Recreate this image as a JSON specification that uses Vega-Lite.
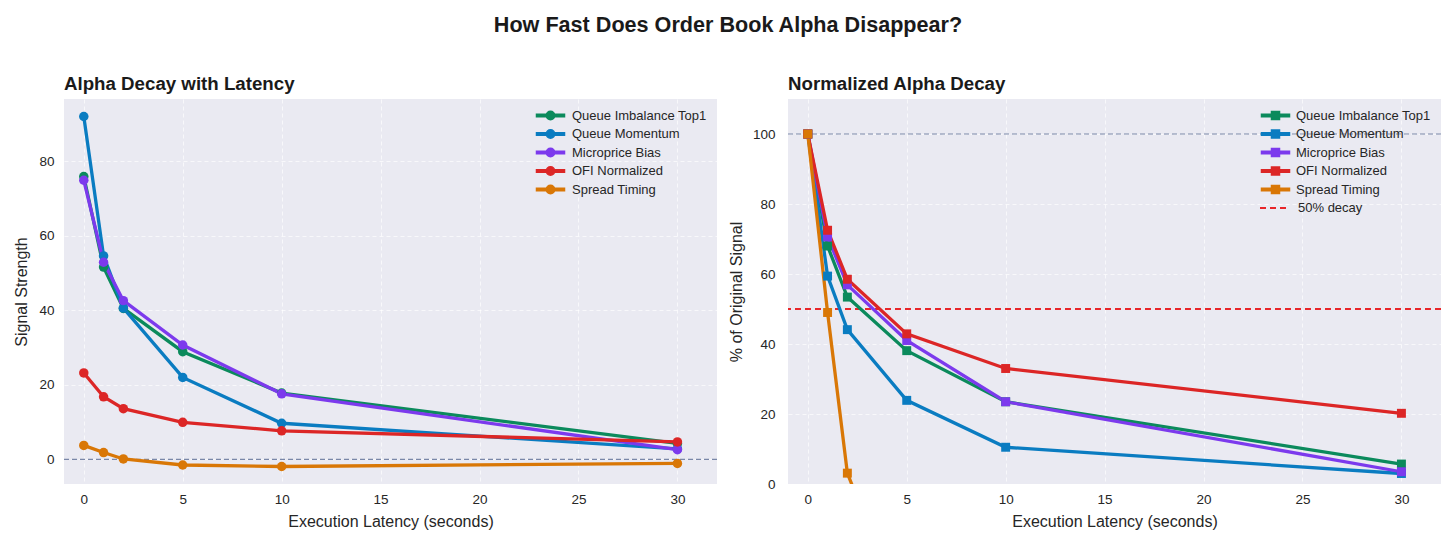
{
  "$schema": "https://vega.github.io/schema/vega-lite/v6.json",
  "autosize": {"type": "none"},
  "padding": {"left": 64, "top": 99, "right": 1392, "bottom": 446},
  "background": "white",
  "title": {
    "text": "How Fast Does Order Book Alpha Disappear?",
    "anchor": "middle",
    "frame": "bounds",
    "fontSize": 21.6,
    "fontWeight": "bold",
    "color": "#1a1a1a",
    "offset": 39
  },
  "config": {
    "font": "Liberation Sans",
    "view": {"fill": "#EAEAF2", "stroke": null},
    "axis": {
      "domain": false,
      "ticks": false,
      "grid": true,
      "gridColor": "#ffffff",
      "gridDash": [4, 3],
      "gridWidth": 1,
      "gridOpacity": 0.65,
      "labelFontSize": 13.5,
      "labelColor": "#262626",
      "titleFontSize": 16,
      "titleFontWeight": "normal",
      "titleColor": "#262626"
    },
    "title": {"fontWeight": "bold", "color": "#1a1a1a"},
    "legend": {
      "orient": "none",
      "title": null,
      "padding": 0,
      "labelFontSize": 13,
      "labelColor": "#262626",
      "rowPadding": 3.5,
      "strokeColor": null,
      "fillColor": null
    }
  },
  "datasets": {
    "decay": [
      {"series": "Queue Imbalance Top1", "latency": 0, "signal": 75.9, "pct": 100},
      {"series": "Queue Imbalance Top1", "latency": 1, "signal": 51.6, "pct": 68.0},
      {"series": "Queue Imbalance Top1", "latency": 2, "signal": 40.5, "pct": 53.4},
      {"series": "Queue Imbalance Top1", "latency": 5, "signal": 28.9, "pct": 38.1},
      {"series": "Queue Imbalance Top1", "latency": 10, "signal": 17.8, "pct": 23.5},
      {"series": "Queue Imbalance Top1", "latency": 30, "signal": 4.3, "pct": 5.7},
      {"series": "Queue Momentum", "latency": 0, "signal": 92.0, "pct": 100},
      {"series": "Queue Momentum", "latency": 1, "signal": 54.6, "pct": 59.4},
      {"series": "Queue Momentum", "latency": 2, "signal": 40.6, "pct": 44.1},
      {"series": "Queue Momentum", "latency": 5, "signal": 22.0, "pct": 23.9},
      {"series": "Queue Momentum", "latency": 10, "signal": 9.7, "pct": 10.5},
      {"series": "Queue Momentum", "latency": 30, "signal": 2.8, "pct": 3.0},
      {"series": "Microprice Bias", "latency": 0, "signal": 74.9, "pct": 100},
      {"series": "Microprice Bias", "latency": 1, "signal": 52.9, "pct": 70.6},
      {"series": "Microprice Bias", "latency": 2, "signal": 42.6, "pct": 56.9},
      {"series": "Microprice Bias", "latency": 5, "signal": 30.7, "pct": 41.0},
      {"series": "Microprice Bias", "latency": 10, "signal": 17.6, "pct": 23.5},
      {"series": "Microprice Bias", "latency": 30, "signal": 2.6, "pct": 3.5},
      {"series": "OFI Normalized", "latency": 0, "signal": 23.2, "pct": 100},
      {"series": "OFI Normalized", "latency": 1, "signal": 16.8, "pct": 72.5},
      {"series": "OFI Normalized", "latency": 2, "signal": 13.6, "pct": 58.5},
      {"series": "OFI Normalized", "latency": 5, "signal": 9.95, "pct": 42.9},
      {"series": "OFI Normalized", "latency": 10, "signal": 7.66, "pct": 33.0},
      {"series": "OFI Normalized", "latency": 30, "signal": 4.69, "pct": 20.2},
      {"series": "Spread Timing", "latency": 0, "signal": 3.75, "pct": 100},
      {"series": "Spread Timing", "latency": 1, "signal": 1.84, "pct": 49.0},
      {"series": "Spread Timing", "latency": 2, "signal": 0.12, "pct": 3.1},
      {"series": "Spread Timing", "latency": 5, "signal": -1.5, "pct": -40.0},
      {"series": "Spread Timing", "latency": 10, "signal": -1.9, "pct": -50.7},
      {"series": "Spread Timing", "latency": 30, "signal": -1.07, "pct": -28.5}
    ]
  },
  "bounds": "flush",
  "spacing": 71,
  "resolve": {"scale": {"color": "independent"}, "legend": {"color": "independent"}},
  "hconcat": [
    {
      "width": 653,
      "height": 385,
      "title": {"text": "Alpha Decay with Latency", "anchor": "start", "frame": "group", "fontSize": 18.7, "offset": 5},
      "layer": [
        {
          "data": {"values": [{"level": 0}]},
          "mark": {"type": "rule", "color": "#7a87a8", "strokeDash": [5, 3], "strokeWidth": 1.2},
          "encoding": {"y": {"field": "level", "type": "quantitative"}}
        },
        {
          "data": {"name": "decay"},
          "mark": {"type": "line", "strokeWidth": 3.3, "clip": true},
          "encoding": {
            "x": {"field": "latency", "type": "quantitative", "scale": {"domain": [-1, 32], "nice": false, "zero": false},
                  "axis": {"values": [0, 5, 10, 15, 20, 25, 30], "title": "Execution Latency (seconds)", "labelPadding": 8, "titlePadding": 8}},
            "y": {"field": "signal", "type": "quantitative", "scale": {"domain": [-6.6, 96.7], "nice": false, "zero": false},
                  "axis": {"values": [0, 20, 40, 60, 80], "title": "Signal Strength", "labelPadding": 10, "titlePadding": 9}},
            "color": {"field": "series", "type": "nominal",
                      "scale": {"domain": ["Queue Imbalance Top1", "Queue Momentum", "Microprice Bias", "OFI Normalized", "Spread Timing"],
                                "range": ["#0b8a5c", "#0a7cc1", "#7c3aed", "#dc2626", "#d97706"]},
                      "legend": {"legendX": 480, "legendY": 10, "symbolSize": 64, "labelOffset": 15,
                                 "symbolType": "M-3.5,-0.33 L3.5,-0.33 L3.5,0.33 L-3.5,0.33 Z M-1.05,0 A1.05,1.05 0 1,1 1.05,0 A1.05,1.05 0 1,1 -1.05,0 Z"}}
          }
        },
        {
          "data": {"name": "decay"},
          "mark": {"type": "point", "filled": true, "shape": "circle", "size": 90, "opacity": 1, "clip": true},
          "encoding": {
            "x": {"field": "latency", "type": "quantitative"},
            "y": {"field": "signal", "type": "quantitative"},
            "color": {"field": "series", "type": "nominal"}
          }
        }
      ]
    },
    {
      "width": 653,
      "height": 385,
      "title": {"text": "Normalized Alpha Decay", "anchor": "start", "frame": "group", "fontSize": 18.7, "offset": 5},
      "layer": [
        {
          "data": {"values": [{"level": 100}]},
          "mark": {"type": "rule", "color": "#7a87a8", "strokeDash": [5, 3], "strokeWidth": 1.2},
          "encoding": {"y": {"field": "level", "type": "quantitative"}}
        },
        {
          "data": {"values": [{"level": 50, "label": "50% decay"}]},
          "mark": {"type": "rule", "color": "#e8262a", "strokeWidth": 2},
          "encoding": {
            "y": {"field": "level", "type": "quantitative"},
            "strokeDash": {"field": "label", "type": "nominal", "scale": {"range": [[6, 4]]},
                           "legend": {"legendX": 1195, "legendY": 95, "symbolType": "stroke", "symbolSize": 676,
                                      "symbolStrokeColor": "#e8262a", "symbolStrokeWidth": 2, "labelOffset": 11}}
          }
        },
        {
          "data": {"name": "decay"},
          "mark": {"type": "line", "strokeWidth": 3.3, "clip": true},
          "encoding": {
            "x": {"field": "latency", "type": "quantitative", "scale": {"domain": [-1, 32], "nice": false, "zero": false},
                  "axis": {"values": [0, 5, 10, 15, 20, 25, 30], "title": "Execution Latency (seconds)", "labelPadding": 8, "titlePadding": 8}},
            "y": {"field": "pct", "type": "quantitative", "scale": {"domain": [0, 110], "nice": false, "zero": false},
                  "axis": {"values": [0, 20, 40, 60, 80, 100], "title": "% of Original Signal", "labelPadding": 13, "titlePadding": 8}},
            "color": {"field": "series", "type": "nominal",
                      "scale": {"domain": ["Queue Imbalance Top1", "Queue Momentum", "Microprice Bias", "OFI Normalized", "Spread Timing"],
                                "range": ["#0b8a5c", "#0a7cc1", "#7c3aed", "#dc2626", "#d97706"]},
                      "legend": {"legendX": 481, "legendY": 10, "symbolSize": 64, "labelOffset": 14,
                                 "symbolType": "M-3.5,-0.33 L3.5,-0.33 L3.5,0.33 L-3.5,0.33 Z M-1,-1 L1,-1 L1,1 L-1,1 Z"}}
          }
        },
        {
          "data": {"name": "decay"},
          "mark": {"type": "point", "filled": true, "shape": "square", "size": 80, "opacity": 1, "clip": true},
          "encoding": {
            "x": {"field": "latency", "type": "quantitative"},
            "y": {"field": "pct", "type": "quantitative"},
            "color": {"field": "series", "type": "nominal"}
          }
        }
      ]
    }
  ]
}
